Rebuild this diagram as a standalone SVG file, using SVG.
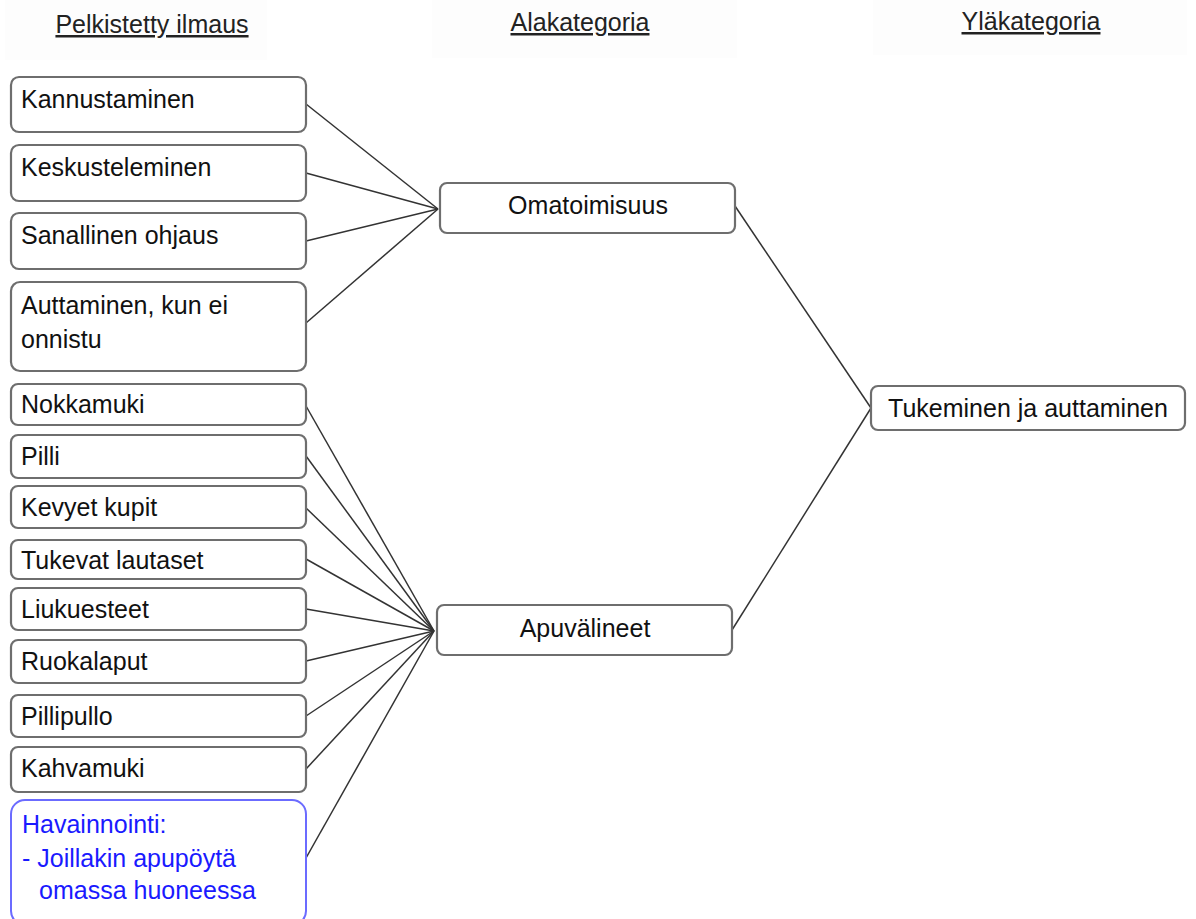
<svg xmlns="http://www.w3.org/2000/svg" width="1196" height="919" viewBox="0 0 1196 919">
<style>
text{font-family:"Liberation Sans",Arial,sans-serif;font-size:25px;fill:#111}
.hdr{text-decoration:underline;text-anchor:middle;fill:#222}
.hbg{fill:#fdfdfd;stroke:none}
.box{fill:#fff;stroke:#6e6e6e;stroke-width:2.2}
.obs{fill:#fff;stroke:#6b6bff;stroke-width:2}
.obs-t{fill:#1a1aff}
.mid{text-anchor:middle}
.conn line{stroke:#333;stroke-width:1.5}
</style>
<rect width="1196" height="919" fill="#fff"/>
<g id="header-pelkistetty"><rect class="hbg" x="5" y="0" width="262" height="60"/><text class="hdr" x="152" y="33">Pelkistetty ilmaus</text></g>
<g id="header-alakategoria"><rect class="hbg" x="432" y="0" width="305" height="58"/><text class="hdr" x="580" y="31">Alakategoria</text></g>
<g id="header-ylakategoria"><rect class="hbg" x="873" y="0" width="314" height="55"/><text class="hdr" x="1031" y="30">Yläkategoria</text></g>

<g class="conn" id="connectors">
<line x1="306" y1="104" x2="438" y2="209"/>
<line x1="306" y1="173" x2="438" y2="209"/>
<line x1="306" y1="241" x2="438" y2="209"/>
<line x1="306" y1="323" x2="438" y2="209"/>
<line x1="306" y1="406" x2="434" y2="631"/>
<line x1="306" y1="456" x2="434" y2="631"/>
<line x1="306" y1="508" x2="434" y2="631"/>
<line x1="306" y1="559" x2="434" y2="631"/>
<line x1="306" y1="609" x2="434" y2="631"/>
<line x1="306" y1="661" x2="434" y2="631"/>
<line x1="306" y1="716" x2="434" y2="631"/>
<line x1="306" y1="769" x2="434" y2="631"/>
<line x1="306" y1="858" x2="434" y2="631"/>
<line x1="735" y1="206" x2="871" y2="408"/>
<line x1="732" y1="630" x2="871" y2="408"/>
</g>

<g id="n-kannustaminen"><rect class="box" x="11" y="77" width="295" height="55" rx="8"/><text x="21" y="108">Kannustaminen</text></g>
<g id="n-keskusteleminen"><rect class="box" x="11" y="145" width="295" height="56" rx="8"/><text x="21" y="176">Keskusteleminen</text></g>
<g id="n-sanallinen"><rect class="box" x="11" y="213" width="295" height="56" rx="8"/><text x="21" y="244">Sanallinen ohjaus</text></g>
<g id="n-auttaminen"><rect class="box" x="11" y="282" width="295" height="89" rx="9"/><text x="21" y="314">Auttaminen, kun ei</text><text x="21" y="348">onnistu</text></g>
<g id="n-nokkamuki"><rect class="box" x="11" y="384" width="295" height="41" rx="7"/><text x="21" y="413">Nokkamuki</text></g>
<g id="n-pilli"><rect class="box" x="11" y="435" width="295" height="43" rx="7"/><text x="21" y="465">Pilli</text></g>
<g id="n-kevyet"><rect class="box" x="11" y="486" width="295" height="42" rx="7"/><text x="21" y="516">Kevyet kupit</text></g>
<g id="n-tukevat"><rect class="box" x="11" y="540" width="295" height="39" rx="7"/><text x="21" y="569">Tukevat lautaset</text></g>
<g id="n-liukuesteet"><rect class="box" x="11" y="588" width="295" height="42" rx="7"/><text x="21" y="618">Liukuesteet</text></g>
<g id="n-ruokalaput"><rect class="box" x="11" y="640" width="295" height="43" rx="7"/><text x="21" y="670">Ruokalaput</text></g>
<g id="n-pillipullo"><rect class="box" x="11" y="695" width="295" height="42" rx="7"/><text x="21" y="725">Pillipullo</text></g>
<g id="n-kahvamuki"><rect class="box" x="11" y="747" width="295" height="45" rx="7"/><text x="21" y="777">Kahvamuki</text></g>
<g id="n-havainnointi"><rect class="obs" x="11" y="800" width="295" height="125" rx="14"/><text class="obs-t" x="22" y="833">Havainnointi:</text><text class="obs-t" x="22" y="867">- Joillakin apupöytä</text><text class="obs-t" x="39" y="899">omassa huoneessa</text></g>

<g id="n-omatoimisuus"><rect class="box" x="440" y="183" width="295" height="50" rx="7"/><text class="mid" x="588" y="214">Omatoimisuus</text></g>
<g id="n-apuvalineet"><rect class="box" x="437" y="605" width="295" height="50" rx="7"/><text class="mid" x="585" y="637">Apuvälineet</text></g>
<g id="n-tukeminen"><rect class="box" x="871" y="386" width="314" height="44" rx="7"/><text class="mid" x="1028" y="417">Tukeminen ja auttaminen</text></g>
</svg>
